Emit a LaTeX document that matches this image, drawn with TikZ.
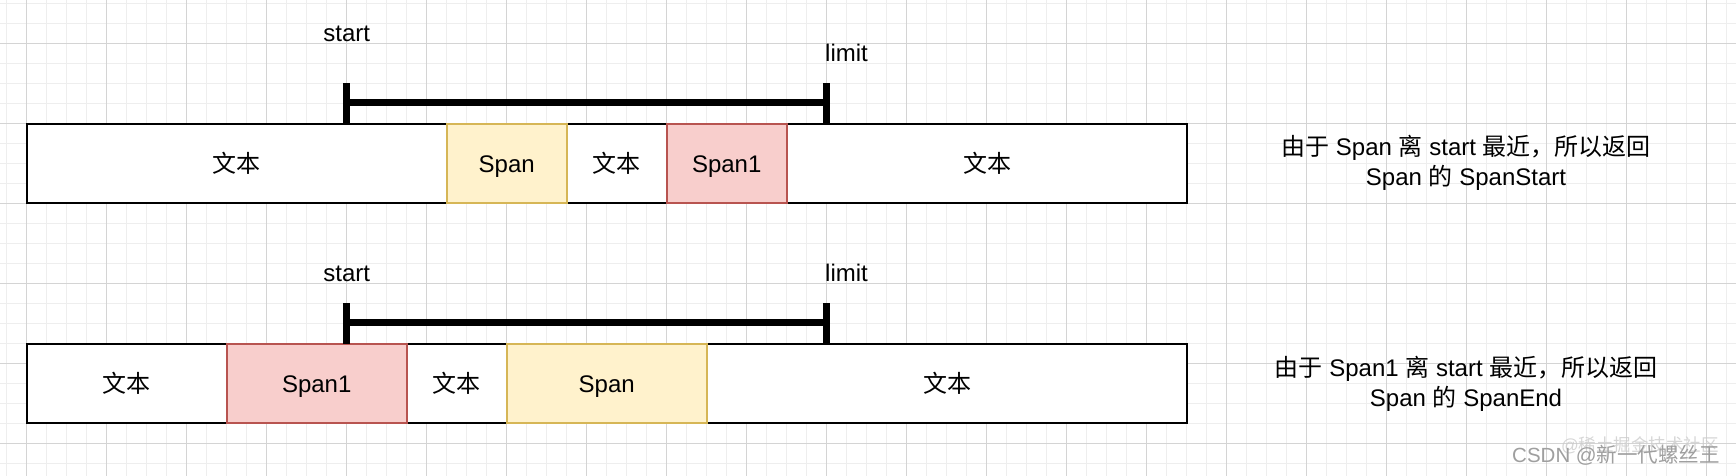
\documentclass[tikz,border=0pt]{standalone}
\usepackage{fontspec}
\setmainfont{Liberation Sans}
\newfontfamily\cjk{Noto Sans CJK SC}
\definecolor{spanYf}{HTML}{FFF2CC}
\definecolor{spanYd}{HTML}{D6B656}
\definecolor{spanRf}{HTML}{F8CECC}
\definecolor{spanRd}{HTML}{B85450}
\definecolor{gridminor}{HTML}{EEEEEE}
\definecolor{gridmajor}{HTML}{D4D4D4}
\begin{document}
\begin{tikzpicture}[x=1pt,y=-1pt,
  minorgrid/.style={draw=gridminor, line width=1pt},
  majorgrid/.style={draw=gridmajor, line width=1pt},
  box/.style={draw=black, line width=2pt, fill=white, inner sep=0pt, outer sep=0pt,
    minimum height=79.3pt, text height=20pt, text depth=2pt, font=\fontsize{24}{28}\selectfont},
  spanY/.style={box, draw=spanYd, fill=spanYf},
  spanR/.style={box, draw=spanRd, fill=spanRf},
  lbl/.style={inner sep=0pt, font=\fontsize{24}{28}\selectfont},
  note/.style={inner sep=0pt, align=center, font=\fontsize{24}{30}\selectfont},
  rangebar/.style={line width=7pt, black},
  wm/.style={inner sep=0pt, text=gray!75, font=\fontsize{20.5}{24}\selectfont},
  wmfaint/.style={inner sep=0pt, text=gray!40, opacity=0.8, font=\fontsize{17.5}{20}\selectfont}]
\useasboundingbox (0,0) rectangle (1736,476);
\fill[white] (0,0) rectangle (1736,476);
% grid
\foreach \i in {0,...,86} \draw[minorgrid] ({6.7+20*\i},0) -- ({6.7+20*\i},476);
\foreach \j in {0,...,23} \draw[minorgrid] (0,{3.3+20*\j}) -- (1736,{3.3+20*\j});
\foreach \i in {0,...,21} \draw[majorgrid] ({26.7+80*\i},0) -- ({26.7+80*\i},476);
\foreach \j in {0,...,5} \draw[majorgrid] (0,{43.3+80*\j}) -- (1736,{43.3+80*\j});

% ---------- top row ----------
\node[box, minimum width=420pt] (t1) at (236.7,163.7) {\cjk 文本};
\node[box, minimum width=100pt] (t3) at (616.7,163.7) {\cjk 文本};
\node[box, minimum width=400.6pt] (t5) at (987,163.7) {\cjk 文本};
\node[spanY, minimum width=120pt] (t2) at (506.7,163.7) {Span};
\node[spanR, minimum width=120pt] (t4) at (726.7,163.7) {Span1};

\coordinate (ts1) at (346.7,83.3);
\coordinate (tsb) at (346.7,124);
\coordinate (ts) at (346.7,102.7);
\coordinate (tl1) at (826.7,83.3);
\coordinate (tlb) at (826.7,124);
\coordinate (tl) at (826.7,102.7);
\draw[rangebar] (ts) -- (tl);
\draw[rangebar] (ts1) -- (tsb);
\draw[rangebar] (tl1) -- (tlb);
\node[lbl] (tstart) at (346.7,34.3) {start};
\node[lbl, anchor=west] (tlimit) at (825,53.3) {limit};

\node[note] (tnote) at (1466,163.3) {{\cjk 由于} Span {\cjk 离} start {\cjk 最近，所以返回}\\Span {\cjk 的} SpanStart};

% ---------- bottom row ----------
\node[box, minimum width=200pt] (b1) at (126.7,383.7) {\cjk 文本};
\node[box, minimum width=100pt] (b3) at (456.7,383.7) {\cjk 文本};
\node[box, minimum width=480.6pt] (b5) at (947,383.7) {\cjk 文本};
\node[spanR, minimum width=180pt] (b2) at (316.7,383.7) {Span1};
\node[spanY, minimum width=200pt] (b4) at (606.7,383.7) {Span};

\coordinate (bs1) at (346.7,303.3);
\coordinate (bsb) at (346.7,344);
\coordinate (bs) at (346.7,322.7);
\coordinate (bl1) at (826.7,303.3);
\coordinate (blb) at (826.7,344);
\coordinate (bl) at (826.7,322.7);
\draw[rangebar] (bs) -- (bl);
\draw[rangebar] (bs1) -- (bsb);
\draw[rangebar] (bl1) -- (blb);
\node[lbl] (bstart) at (346.7,274.3) {start};
\node[lbl, anchor=west] (blimit) at (825,273.3) {limit};

\node[note] (bnote) at (1466,383.8) {{\cjk 由于} Span1 {\cjk 离} start {\cjk 最近，所以返回}\\Span {\cjk 的} SpanEnd};

% watermark
\node[wmfaint, anchor=east] (wm2) at (1719,445) {@{\cjk 稀土掘金技术社区}};
\node[wm, anchor=east] (wm1) at (1720,455) {CSDN @{\cjk 新一代螺丝王}};
\end{tikzpicture}
\end{document}
